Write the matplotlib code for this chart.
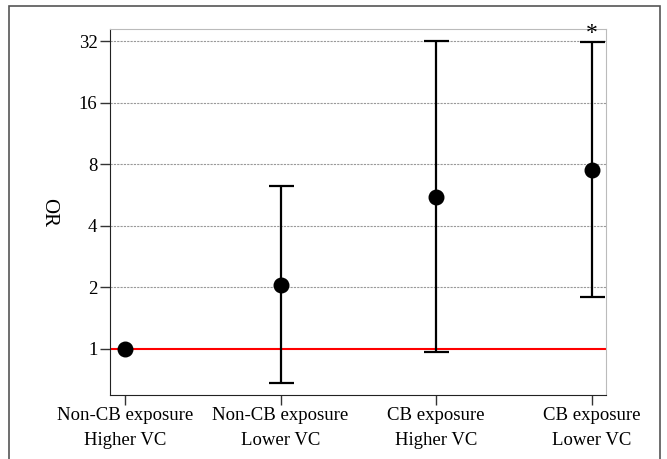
import matplotlib.pyplot as plt
from matplotlib.patches import Rectangle

plt.rcParams['font.family'] = ['Liberation Serif', 'DejaVu Serif']

groups = ['Non-CB exposure\nHigher VC', 'Non-CB exposure\nLower VC',
          'CB exposure\nHigher VC', 'CB exposure\nLower VC']
odds = [1.0, 2.06, 5.55, 7.5]
lower = [1.0, 0.68, 0.97, 1.80]
upper = [1.0, 6.26, 32.0, 31.8]
yticks = [1, 2, 4, 8, 16, 32]

fig = plt.figure(figsize=(6.67, 4.59), dpi=100)
ax = fig.add_axes([110 / 667, 1 - 395 / 459, (606 - 110) / 667, (395 - 29) / 459])

# cadre extérieur
fig.patches.append(Rectangle((9 / 667, -0.05), (660 - 9) / 667, 1.05 - 6 / 459,
                             transform=fig.transFigure, fill=False,
                             edgecolor='#555555', linewidth=1.2))

x = list(range(len(groups)))
ax.axhline(1, color='red', linewidth=1.5, zorder=2)
for xi, o, lo, hi in zip(x, odds, lower, upper):
    if hi > lo:
        ax.errorbar(xi, o, yerr=[[o - lo], [hi - o]], fmt='none', ecolor='black',
                    elinewidth=1.6, capsize=9, capthick=1.6, zorder=3)
ax.scatter(x, odds, s=110, color='black', zorder=4)
ax.text(3, 34.8, '*', ha='center', va='center', fontsize=17)

ax.set_yscale('log', base=2)
ax.set_ylim(0.595, 36.8)
ax.set_yticks(yticks)
ax.set_yticklabels([str(t) for t in yticks])
ax.minorticks_off()
ax.set_xlim(-0.0965, 3.093)
ax.set_xticks(x)
ax.set_xticklabels(groups, linespacing=1.55)
for t in yticks[1:]:
    ax.axhline(t, color='#999999', linestyle=(0, (2, 1)), linewidth=0.8, zorder=1)

ax.set_ylabel('OR', rotation=270, fontsize=15, labelpad=22, va='center')
ax.tick_params(axis='both', labelsize=13.5, length=7, color='#333333', width=1)
ax.tick_params(axis='x', pad=2)
ax.tick_params(axis='y', pad=2)
ax.spines['top'].set_color('#bbbbbb')
ax.spines['right'].set_color('#bbbbbb')
for s in ['left', 'bottom']:
    ax.spines[s].set_color('#222222')

fig.savefig('out.png', dpi=100)
